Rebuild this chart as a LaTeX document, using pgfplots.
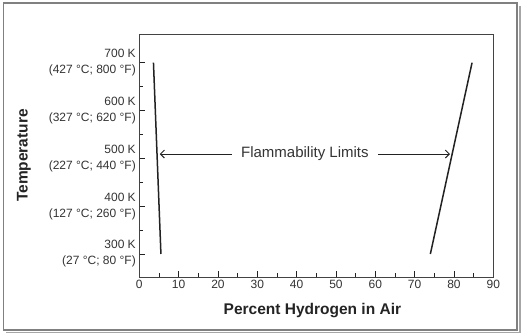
\documentclass[border=0pt]{standalone}
\usepackage{fontspec}
\setmainfont{Liberation Sans}
\usepackage{pgfplots}
\pgfplotsset{compat=1.18}
\usetikzlibrary{arrows.meta}
\definecolor{txt}{HTML}{333333}
\definecolor{ln}{HTML}{222222}
\definecolor{frm}{HTML}{808080}
\begin{document}
\begin{tikzpicture}
\path (0pt,0pt) rectangle (525pt,334pt);
% outer frame with shadow
\draw[frm, line width=1.5pt] (3.5pt,4pt) rectangle (517pt,331pt);
\draw[frm!70, line width=1.2pt] (520pt,328pt) -- (520pt,1.2pt) -- (6pt,1.2pt);
\begin{axis}[
  at={(139.3pt,57pt)}, anchor=south west,
  width=354pt, height=243pt, scale only axis,
  xmin=0, xmax=90, ymin=251.9, ymax=760,
  xtick={0,10,...,90},
  ytick={300,400,500,600,700},
  yticklabels={{300 K\\(27 °C; 80 °F)},{400 K\\(127 °C; 260 °F)},{500 K\\(227 °C; 440 °F)},{600 K\\(327 °C; 620 °F)},{700 K\\(427 °C; 800 °F)}},
  minor x tick num=1, minor y tick num=1,
  xtick pos=bottom, ytick pos=left,
  tick align=inside,
  major tick length=6pt, minor tick length=3.5pt,
  every tick/.style={ln, line width=0.8pt},
  axis line style={draw=ln!85, line width=0.9pt},
  /pgf/number format/assume math mode=true,
  ticklabel style={text=txt},
  xticklabel style={font=\fontsize{12}{14}\selectfont},
  yticklabel style={font=\fontsize{12}{16}\selectfont, align=right},
  xlabel={Percent Hydrogen in Air},
  ylabel={Temperature},
  label style={font=\fontsize{15.5}{18}\selectfont\bfseries, text=txt!70!black},
  xlabel style={at={(axis description cs:0.489,-0.1387)}, anchor=center},
  ylabel style={at={(axis description cs:-0.3257,0.5)}, anchor=center},
  clip=false,
]
\addplot[ln, line width=1.5pt] coordinates {(3.6,700) (5.5,300)};
\addplot[ln, line width=1.5pt] coordinates {(84.6,700) (74.0,300)};
\draw[ln, line width=1pt, {Straight Barb[length=4pt,width=8pt]}-] (axis cs:5.2,509) -- (axis cs:23.5,509);
\draw[ln, line width=1pt, -{Straight Barb[length=4pt,width=8pt]}] (axis cs:60.7,509) -- (axis cs:79,509);
\node[text=txt, font=\fontsize{15}{18}\selectfont] at (axis cs:42.1,509) {Flammability Limits};
\end{axis}
\end{tikzpicture}
\end{document}
